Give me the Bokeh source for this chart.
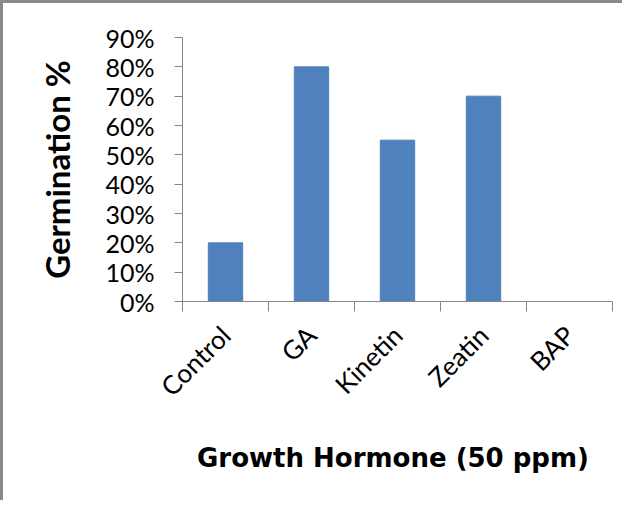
from bokeh.plotting import figure
from bokeh.models import Range1d, FixedTicker, NumeralTickFormatter, ColumnDataSource
from bokeh.embed import file_html
from bokeh.resources import INLINE
import math

categories = ["Control", "GA", "Kinetin", "Zeatin", "BAP"]
germination = [0.20, 0.80, 0.55, 0.70, 0.0]
y_ticks = [0.0, 0.1, 0.2, 0.3, 0.4, 0.5, 0.6, 0.7, 0.8, 0.9]

centers = [i + 0.5 for i in range(len(categories))]
bounds = [float(i) for i in range(len(categories) + 1)]
src = ColumnDataSource(dict(x=centers, top=germination, cat=categories))

FONT = "Lato"
AX = "#868686"

p = figure(width=622, height=500, output_backend="svg", toolbar_location=None,
           x_range=Range1d(0, len(categories)), y_range=Range1d(0, 0.9),
           min_border_left=179, min_border_right=13, min_border_top=34, min_border_bottom=202)
p.styles = {"border-left": "3px solid #8a8a8a", "border-top": "3px solid #8a8a8a"}

p.vbar(x="x", top="top", width=0.4, source=src, fill_color="#4F81BD", line_color="#4F81BD")

p.grid.visible = False
p.outline_line_color = None

xa = p.xaxis[0]
xa.ticker = FixedTicker(ticks=centers, minor_ticks=bounds)
xa.major_label_overrides = {c: n for c, n in zip(centers, categories)}
xa.major_tick_line_color = None
xa.minor_tick_line_color = AX
xa.minor_tick_in = 0
xa.minor_tick_out = 10
xa.axis_line_color = AX
xa.major_label_orientation = math.pi / 4
xa.major_label_standoff = 19
xa.major_label_text_font = FONT
xa.major_label_text_font_size = "26px"
xa.major_label_text_color = "#000000"
xa.axis_label = "Growth Hormone  (50 ppm)"
xa.axis_label_text_font = "DejaVu Sans"
xa.axis_label_text_font_style = "bold"
xa.axis_label_text_font_size = "26px"
xa.axis_label_text_color = "#000000"
xa.axis_label_standoff = 27

ya = p.yaxis[0]
ya.ticker = FixedTicker(ticks=y_ticks, minor_ticks=[])
ya.formatter = NumeralTickFormatter(format="0%")
ya.major_tick_in = 0
ya.major_tick_out = 8
ya.major_tick_line_color = AX
ya.axis_line_color = AX
ya.major_label_standoff = 20
ya.major_label_text_font = FONT
ya.major_label_text_font_size = "25px"
ya.major_label_text_color = "#000000"
ya.axis_label = "Germination %"
ya.axis_label_text_font = FONT
ya.axis_label_text_font_style = "bold"
ya.axis_label_text_font_size = "33px"
ya.axis_label_text_color = "#000000"
ya.axis_label_standoff = 25

open("out.html", "w").write(file_html(p, INLINE))
